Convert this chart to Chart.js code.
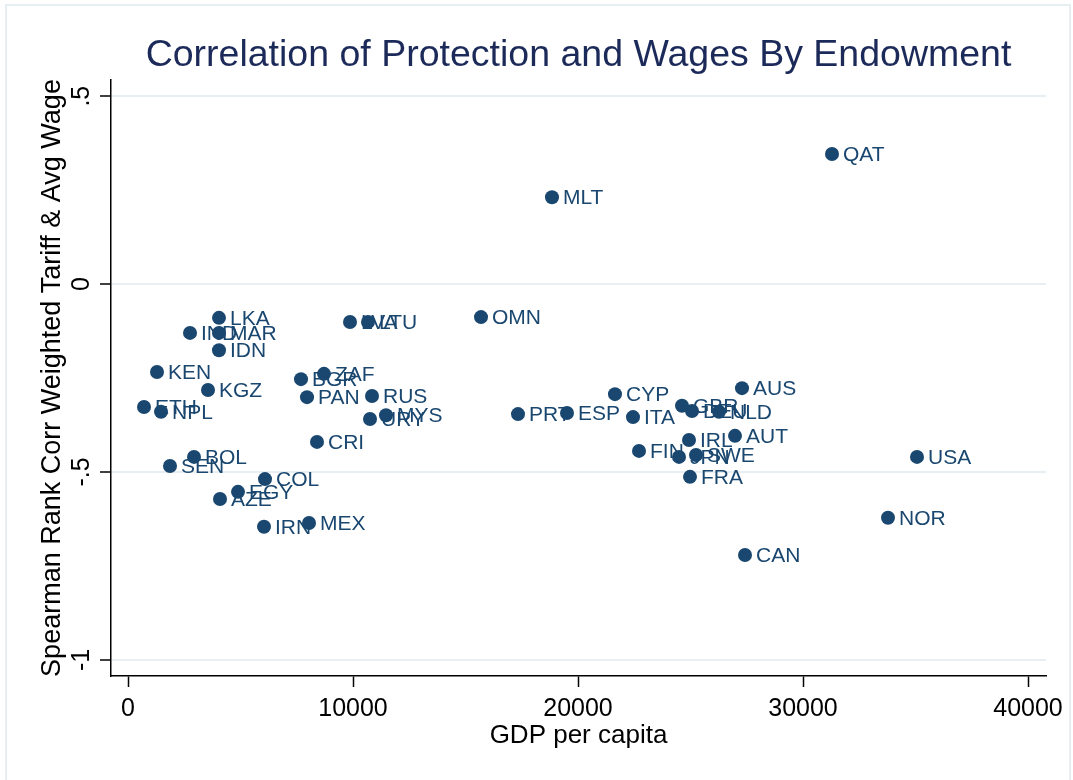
<!DOCTYPE html>
<html lang="en">
<head>
  <meta charset="UTF-8">
  <title>Correlation of Protection and Wages By Endowment</title>
  <style>
    body {
      margin: 0;
      background: #fff;
    }
    #wrap {
      width: 1073px;
      height: 780px;
    }
  </style>
</head>
<body>

  <div id="wrap"><canvas id="scatter" width="1073" height="780"></canvas></div>

  <script src="https://cdn.jsdelivr.net/npm/chart.js"></script>
  <script>
    // Values: country code, GDP per capita, Spearman rank corr
    var countries = ['QAT', 'MLT', 'OMN', 'LKA', 'IND', 'MAR', 'IDN', 'KEN', 'KGZ', 'ETH',
                     'NPL', 'LVA', 'LTU', 'BGR', 'ZAF', 'PAN', 'RUS', 'MYS', 'URY', 'CRI',
                     'BOL', 'SEN', 'COL', 'EGY', 'AZE', 'IRN', 'MEX', 'CYP', 'PRT', 'ESP',
                     'ITA', 'GBR', 'DEU', 'NLD', 'AUS', 'AUT', 'IRL', 'FIN', 'JPN', 'SWE',
                     'FRA', 'CAN', 'USA', 'NOR'];
    var gdpPerCapita = [31289, 18844, 15689, 4044, 2756, 4044, 4044, 1289, 3556, 711,
                        1467, 9867, 10667, 7689, 8711, 7956, 10844, 11467, 10756, 8400,
                        2933, 1867, 6089, 4889, 4089, 6044, 8044, 21644, 17333, 19511,
                        22444, 24622, 25067, 26267, 27289, 26978, 24933, 22711, 24489, 25244,
                        24978, 27422, 35067, 33778];
    var spearman = [0.346, 0.231, -0.088, -0.090, -0.130, -0.130, -0.176, -0.234, -0.282, -0.327,
                    -0.340, -0.101, -0.101, -0.253, -0.239, -0.301, -0.298, -0.349, -0.359, -0.420,
                    -0.460, -0.484, -0.519, -0.553, -0.572, -0.646, -0.636, -0.293, -0.346, -0.343,
                    -0.354, -0.324, -0.338, -0.340, -0.277, -0.404, -0.415, -0.444, -0.460, -0.455,
                    -0.513, -0.721, -0.460, -0.622];
    var xTicks = [0, 10000, 20000, 30000, 40000];
    var yTicks = [-1, -0.5, 0, 0.5];
    var xRange = [-756, 40800];
    var yRange = [-1.043, 0.543];

    var navy = '#1a476f';
    var fontFamily = '"Liberation Sans", Arial, Helvetica, sans-serif';
    var tickFont = { family: fontFamily, size: 25 };

    function fmtY(v) {
      // Stata style: .5, 0, -.5, -1
      return String(v).replace('0.', '.');
    }

    var points = gdpPerCapita.map(function(g, i) {
      return { x: g, y: spearman[i] };
    });

    // light outer frame of the graph region
    var frame = {
      id: 'frame',
      beforeDraw: function(chart) {
        var ctx = chart.ctx;
        ctx.save();
        ctx.fillStyle = '#fff';
        ctx.fillRect(0, 0, chart.width, chart.height);
        ctx.strokeStyle = '#e6eef1';
        ctx.lineWidth = 2;
        ctx.strokeRect(6, 5, chart.width - 9, chart.height + 10);
        ctx.restore();
      }
    };

    // country labels to the right of each marker (markers are drawn on top)
    var pointLabels = {
      id: 'pointLabels',
      beforeDatasetsDraw: function(chart) {
        var ctx = chart.ctx;
        var meta = chart.getDatasetMeta(0);
        ctx.save();
        ctx.font = '21px ' + fontFamily;
        ctx.fillStyle = navy;
        ctx.textAlign = 'left';
        ctx.textBaseline = 'middle';
        meta.data.forEach(function(pt, i) {
          ctx.fillText(countries[i], pt.x + 11, pt.y + 1);
        });
        ctx.restore();
      }
    };

    // vertical y tick labels, as Stata draws them
    var yTickLabels = {
      id: 'yTickLabels',
      afterDraw: function(chart) {
        var scale = chart.scales.y;
        var ctx = chart.ctx;
        var x = scale.right - scale.options.grid.tickLength - 11;
        ctx.save();
        ctx.font = tickFont.size + 'px ' + fontFamily;
        ctx.fillStyle = '#000';
        ctx.textAlign = 'center';
        ctx.textBaseline = 'alphabetic';
        scale.ticks.forEach(function(t) {
          ctx.save();
          ctx.translate(x, scale.getPixelForValue(t.value));
          ctx.rotate(-Math.PI / 2);
          ctx.fillText(fmtY(t.value), 0, 0);
          ctx.restore();
        });
        ctx.restore();
      }
    };

    var ctx = document.getElementById('scatter').getContext('2d');
    var chart = new Chart(ctx, {
      type: 'scatter',
      data: {
        datasets: [{
          data: points,
          backgroundColor: navy,
          borderColor: navy,
          borderWidth: 0,
          pointRadius: 7,
          pointHoverRadius: 7
        }]
      },
      options: {
        responsive: false,
        animation: false,
        layout: {
          padding: { left: 0, right: 27, top: 0, bottom: 0 }
        },
        plugins: {
          legend: { display: false },
          tooltip: { enabled: false },
          title: {
            display: true,
            fullSize: false,
            text: 'Correlation of Protection and Wages By Endowment',
            color: '#1c2a5a',
            font: { family: fontFamily, size: 37.5, weight: 'normal', lineHeight: 1.2 },
            padding: { top: 33, bottom: 2 }
          }
        },
        scales: {
          x: {
            type: 'linear',
            min: xRange[0],
            max: xRange[1],
            afterBuildTicks: function(scale) {
              scale.ticks = xTicks.map(function(v) { return { value: v }; });
            },
            afterFit: function(scale) {
              scale.height = 104;
            },
            border: { display: true, color: '#000', width: 1.5 },
            grid: {
              drawOnChartArea: false,
              drawTicks: true,
              tickLength: 11,
              tickColor: '#000',
              tickWidth: 1.5
            },
            ticks: {
              color: '#000',
              font: tickFont,
              padding: 7,
              maxRotation: 0,
              callback: function(v) { return String(v); }
            },
            title: {
              display: true,
              text: 'GDP per capita',
              color: '#000',
              font: { family: fontFamily, size: 26, lineHeight: 1.2 },
              padding: { top: 0, bottom: 29 }
            }
          },
          y: {
            type: 'linear',
            min: yRange[0],
            max: yRange[1],
            afterBuildTicks: function(scale) {
              scale.ticks = yTicks.map(function(v) { return { value: v }; });
            },
            afterFit: function(scale) {
              scale.width = 111;
            },
            border: { display: true, color: '#000', width: 1.5 },
            grid: {
              color: '#e8eff2',
              lineWidth: 2,
              drawTicks: true,
              tickLength: 11,
              tickColor: '#000',
              tickWidth: 1.5
            },
            ticks: { display: false },
            title: {
              display: true,
              text: 'Spearman Rank Corr Weighted Tariff & Avg Wage',
              color: '#000',
              font: { family: fontFamily, size: 27, lineHeight: 1.2 },
              padding: { top: 36, bottom: 0 }
            }
          }
        }
      },
      plugins: [frame, pointLabels, yTickLabels]
    });
  </script>

</body>
</html>
